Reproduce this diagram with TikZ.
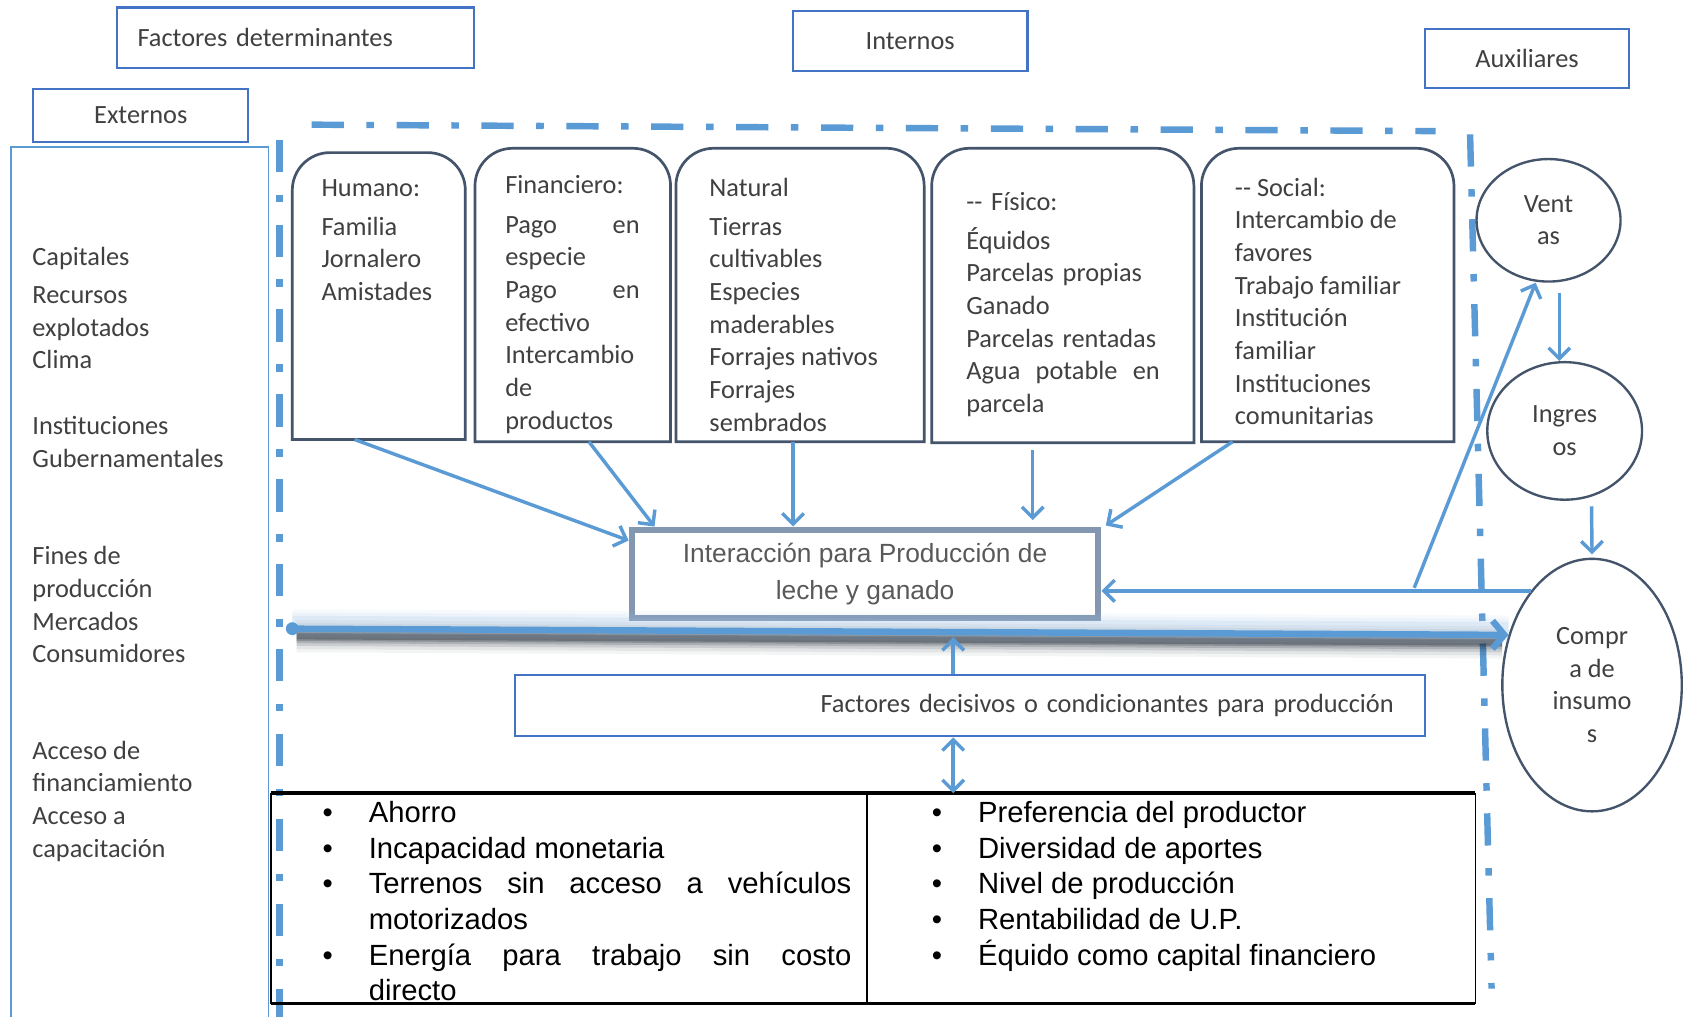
\documentclass[tikz,border=0pt]{standalone}
\usepackage{fontspec}
\setmainfont{Carlito}
\newfontfamily\arialf{Liberation Sans}
\usetikzlibrary{arrows.meta,shapes.geometric,calc}
\definecolor{lblue}{HTML}{5B9BD5}
\definecolor{mblue}{HTML}{4472C4}
\definecolor{slate}{HTML}{44546A}
\definecolor{ggray}{HTML}{8497B0}
\definecolor{txt}{HTML}{404040}
\definecolor{shad}{HTML}{1F2A36}
\newcommand\bodyf{\fontsize{24.5pt}{30.4pt}\selectfont}
\newcommand\tabf{\arialf\fontsize{27.2pt}{33.2pt}\selectfont}
\newcommand\interf{\arialf\fontsize{24.5pt}{34pt}\selectfont}
\newcommand\mybul{\makebox[43pt][l]{\textbullet}}
\begin{document}
\begin{tikzpicture}[x=1pt,y=-1pt,
  hdr/.style={draw=mblue, line width=2.2pt, inner sep=0pt, font=\bodyf, text=txt},
  rbox/.style={draw=slate, line width=2.5pt},
  tx/.style={anchor=north west, inner sep=0pt, align=left, font=\bodyf, text=txt},
  circ/.style={ellipse, draw=slate, line width=2.2pt, inner sep=0pt, align=center, font=\bodyf, text=txt},
  arr/.style={draw=lblue, line width=3.2pt, -{Straight Barb[length=10pt,width=20pt]}},
  dblarr/.style={draw=lblue, line width=3.2pt, {Straight Barb[length=10pt,width=20pt]}-{Straight Barb[length=10pt,width=20pt]}},
  ddot/.style={draw=lblue, line width=6pt, dash pattern=on 30pt off 21pt on 7pt off 21pt},
  ghost/.style={inner sep=0pt, outer sep=0pt}
]
\useasboundingbox[fill=white] (0,0) rectangle (1568,946);

% frames
\draw[lblue, line width=1.5pt] (10,950) -- (10,137) -- (250,137) -- (250,950);
\draw[ddot] (260,130) -- (260,950);
\draw[ddot] (290,116) -- (1336,122);
\draw[ddot] (1368,125) -- (1388,920);

% headers
\node[hdr, minimum width=332pt, minimum height=56pt, text width=294pt, align=left] (fdet) at (275,35) {Factores determinantes};
\node[hdr, minimum width=218pt, minimum height=56pt] (intn) at (847,38) {Internos};
\node[hdr, minimum width=190pt, minimum height=55pt] (aux) at (1421,54.5) {Auxiliares};
\node[hdr, minimum width=200pt, minimum height=49pt] (ext) at (131,107.5) {Externos};

% left column texts
\node[tx] (g1) at (30,226) {\strut Capitales\\[4.6pt]Recursos\\explotados\\Clima};
\node[tx] (g2) at (30,383) {\strut Instituciones\\Gubernamentales};
\node[tx] (g3) at (30,504) {\strut Fines de\\producción\\Mercados\\Consumidores};
\node[tx] (g4) at (30,685) {\strut Acceso de\\financiamiento\\Acceso a\\capacitación};

% top boxes
\node[ghost, minimum width=161pt, minimum height=267pt] (hum) at (352.5,275.5) {};
\node[ghost, minimum width=182pt, minimum height=273pt] (fin) at (533,274.5) {};
\node[ghost, minimum width=231pt, minimum height=273pt] (nat) at (744.5,274.5) {};
\node[ghost, minimum width=244pt, minimum height=274pt] (fis) at (989,275) {};
\node[ghost, minimum width=235pt, minimum height=273pt] (soc) at (1235.5,274.5) {};
\foreach \b in {hum,fin,nat,fis,soc}{
  \draw[rbox] (\b.south west) [rounded corners=35pt] -- (\b.north west) -- (\b.north east) [sharp corners] -- (\b.south east) -- cycle;
}
\node[tx] (humT) at (299,161) {\strut Humano:\\[6pt]Familia\\Jornalero\\Amistades};
\node[tx, text width=125pt] (finT) at (470,159) {\strut Financiero:\\[6pt]Pago\hfill en\\especie\\Pago\hfill en\\efectivo\\Intercambio\\de\\productos};
\node[tx] (natT) at (660,161) {\strut Natural\\[6pt]Tierras\\cultivables\\Especies\\maderables\\Forrajes nativos\\Forrajes\\sembrados};
\node[tx, text width=180pt] (fisT) at (899,174) {\strut -{}- Físico:\\[6pt]Équidos\\Parcelas propias\\Ganado\\Parcelas rentadas\\Agua\hfill potable\hfill en\\parcela};
\node[tx] (socT) at (1149,161) {\strut -{}- Social:\\Intercambio de\\favores\\Trabajo familiar\\Institución\\familiar\\Instituciones\\comunitarias};

% central box
\node[draw=ggray, line width=6pt, minimum width=434pt, minimum height=82pt, inner sep=0pt, align=center, font=\interf, text=black!65] (inter) at (805,534) {Interacción para Producción de\\leche y ganado};

% ellipses
\node[circ, minimum width=134pt, minimum height=114pt] (ventas) at (1441,205) {Vent\\as};
\node[circ, minimum width=144pt, minimum height=128pt] (ingr) at (1456,401) {Ingres\\os};
\node[circ, minimum width=167pt, minimum height=235pt] (compra) at (1481.5,637.5) {Compr\\a de\\insumo\\s};

% decisive box
\node[hdr, minimum width=847pt, minimum height=57pt, text width=789pt, align=right] (decis) at (902.5,656.5) {Factores decisivos o condicionantes para producción};

% table
\node[ghost, minimum width=1121pt, minimum height=196pt] (tbl) at (812.5,836) {};
\draw[line width=3pt] (tbl.north west) -- (tbl.north east);
\draw[line width=3pt] (tbl.south west) -- (tbl.south east);
\draw[line width=1.5pt] (tbl.north east) -- (tbl.south east);
\draw[line width=1.5pt] (tbl.north west) -- (tbl.south west);
\draw[line width=1.5pt] ([xshift=-5.5pt]tbl.north) -- ([xshift=-5.5pt]tbl.south);
\node[anchor=north west, inner sep=0pt, align=left, font=\tabf] (tl) at (300,742) {\strut\mybul Ahorro\\\mybul Incapacidad monetaria\\\mybul\makebox[449pt][s]{Terrenos sin acceso a vehículos}\\\hspace*{43pt}motorizados\\\mybul\makebox[449pt][s]{Energía para trabajo sin costo}\\\hspace*{43pt}directo};
\node[anchor=north west, inner sep=0pt, align=left, font=\tabf] (tr) at (867,742) {\strut\mybul Preferencia del productor\\\mybul Diversidad de aportes\\\mybul Nivel de producción\\\mybul Rentabilidad de U.P.\\\mybul Équido como capital financiero};

% arrows into central box
\draw[arr] ([xshift=-22.5pt]hum.south) -- ([yshift=31pt]inter.west);
\draw[arr] ([xshift=15pt]fin.south) -- ([xshift=-196pt]inter.north);
\draw[arr] ([xshift=-6.5pt]nat.south) -- ([xshift=-67pt]inter.north);
\draw[arr] ([xshift=-28pt,yshift=-7pt]fis.south) -- ([xshift=156pt,yshift=6pt]inter.north);
\draw[arr] ([xshift=-88.5pt]soc.south) -- ([xshift=4pt,yshift=1pt]inter.north east);
\draw[arr] (compra.123) -- (compra.123 -| inter.east);
\coordinate (vstart) at (1316,547);
\draw[arr] (vstart) -- ([xshift=-12pt]ventas.south);
\draw[arr] ([xshift=10pt,yshift=-10pt]ventas.south) -- ([xshift=-5pt]ingr.north);
\draw[arr] ([xshift=25pt,yshift=-5pt]ingr.south) -- ([yshift=3pt]compra.north);

% big arrow with glow and shadow
\coordinate (bigstart) at (272,585);
\coordinate (bigend) at (compra.149);
\foreach \w/\o in {30/0.05,24/0.08,18/0.12,13/0.17,9/0.24,6/0.3}{
  \draw[line width=\w pt, shad, opacity=\o] ([shift={(4pt,-7pt)}]bigstart) -- ([shift={(-6pt,-7pt)}]bigend);
}
\foreach \w/\o in {26/0.08,20/0.12,14/0.18}{
  \draw[line width=\w pt, lblue!60, opacity=\o] ([yshift=5pt]bigstart) -- ([yshift=5pt]bigend);
}
\draw[lblue, line width=6pt, -{Straight Barb[length=11pt,width=26pt]}] (bigstart) -- (bigend);
\fill[lblue] (bigstart) circle[radius=6pt];

% decisive arrows
\draw[arr] ([xshift=-15.5pt]decis.north) -- ++(0,-34);
\draw[dblarr] ([xshift=-15.5pt]decis.south) -- ([xshift=74.5pt]tbl.north);
\end{tikzpicture}
\end{document}
